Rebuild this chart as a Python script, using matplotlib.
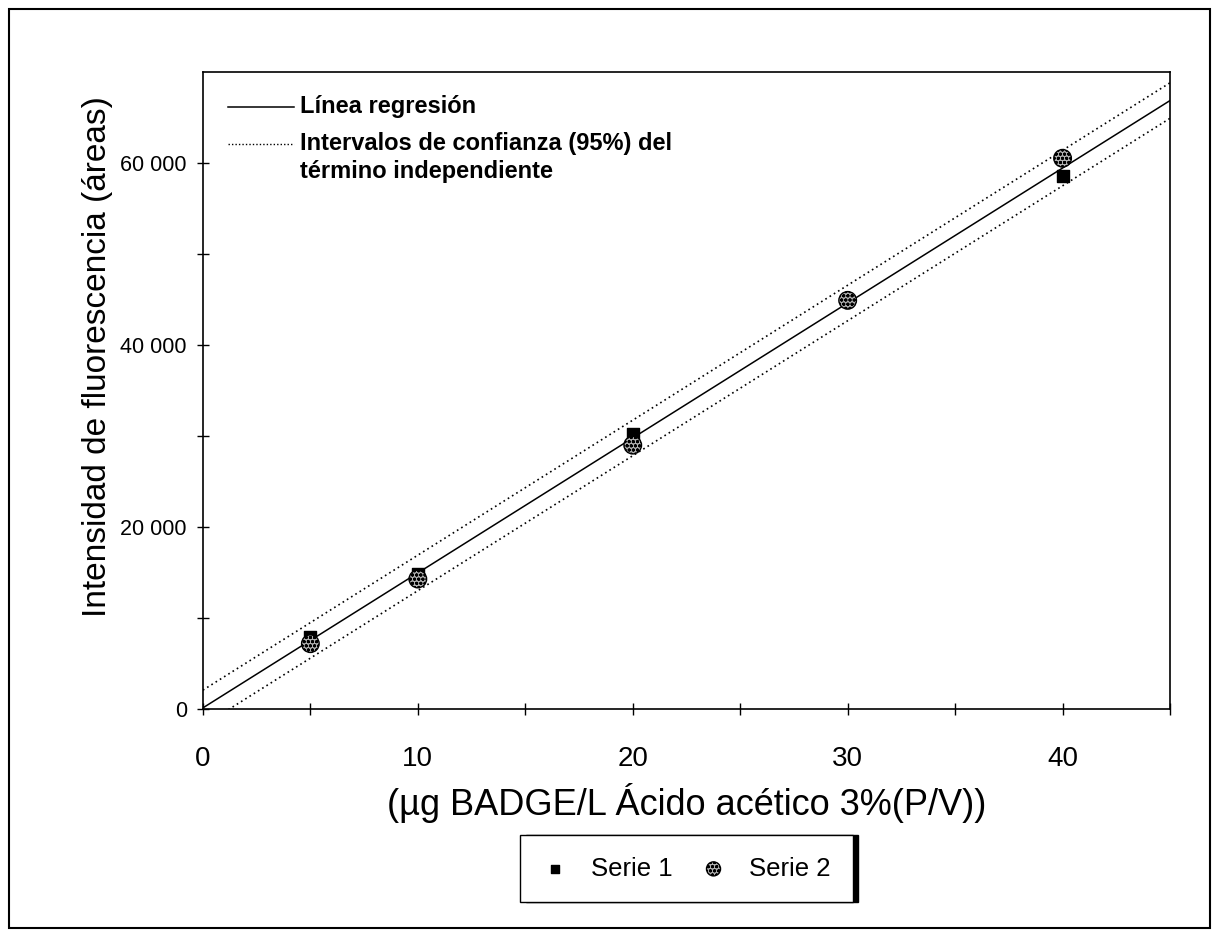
import matplotlib
matplotlib.use("Agg")
import matplotlib.pyplot as plt
from matplotlib.lines import Line2D
from matplotlib.patches import Rectangle
import numpy as np

plt.rcParams["font.family"] = ["Liberation Sans", "DejaVu Sans"]

# data
serie1_x = [5, 10, 20, 40]
serie1_y = [7900, 14900, 30200, 58600]
serie2_x = [5, 10, 20, 30, 40]
serie2_y = [7200, 14300, 29000, 44900, 60500]

slope = 1482
intercept = 150
ci_half = 1950

x_ticks = [0, 10, 20, 30, 40]
y_ticks = [0, 20000, 40000, 60000]
y_tick_labels = ["0", "20 000", "40 000", "60 000"]

fig = plt.figure(figsize=(12.15, 9.32), dpi=100)
ax = fig.add_axes([0.167, 0.239, 0.796, 0.684])

xr = np.array([0, 45])
ax.plot(xr, slope * xr + intercept, color="black", lw=1.1, zorder=2)
ax.plot(xr, slope * xr + intercept + ci_half, color="black", lw=1.2,
        ls=(0, (1, 2)), zorder=2)
ax.plot(xr, slope * xr + intercept - ci_half, color="black", lw=1.2,
        ls=(0, (1, 2)), zorder=2)

s1 = ax.scatter(serie1_x, serie1_y, marker="s", s=65, color="black",
                zorder=3, label="Serie 1")
s2 = ax.scatter(serie2_x, serie2_y, marker="o", s=160, facecolor="#b0b0b0",
                edgecolor="black", hatch="oooo", linewidth=1.0, zorder=4,
                label="Serie 2")

ax.set_xlim(0, 45)
ax.set_ylim(0, 70000)
ax.set_xticks(x_ticks)
ax.set_xticks([5, 15, 25, 35, 45], minor=True)
ax.set_yticks(y_ticks)
ax.set_yticklabels(y_tick_labels)
ax.set_yticks([10000, 30000, 50000], minor=True)
ax.tick_params(which="both", direction="inout", length=9, width=1,
               top=False, right=False)
ax.tick_params(axis="x", which="major", labelsize=20, pad=22)
ax.tick_params(axis="y", which="major", labelsize=15.5, pad=7)
for sp in ax.spines.values():
    sp.set_linewidth(1.2)

ax.set_xlabel("(µg BADGE/L Ácido acético 3%(P/V))", fontsize=26)
ax.xaxis.set_label_coords(0.5, -0.116)
ax.set_ylabel("Intensidad de fluorescencia (áreas)", fontsize=24)
ax.yaxis.set_label_coords(-0.093, 0.553)

# top-left legend drawn by hand
tr = ax.transAxes
ax.add_line(Line2D([0.026, 0.094], [0.945, 0.945], transform=tr,
                   color="black", lw=1.1))
ax.add_line(Line2D([0.026, 0.094], [0.887, 0.887], transform=tr,
                   color="black", lw=1.0, ls=(0, (1, 1.5))))
ax.text(0.100, 0.945, "Línea regresión", transform=tr, ha="left",
        va="center", fontsize=17, fontweight="bold")
ax.text(0.100, 0.905, "Intervalos de confianza (95%) del\ntérmino independiente",
        transform=tr, ha="left", va="top", fontsize=17, fontweight="bold",
        linespacing=1.25)

# bottom legend
leg = fig.legend(handles=[s1, s2], loc="center", bbox_to_anchor=(0.565, 0.068),
                 ncol=2, frameon=True, fancybox=False, edgecolor="black",
                 fontsize=18.5, handletextpad=0.9, columnspacing=1.1,
                 borderpad=0.85, borderaxespad=0.0, markerscale=0.8,
                 handlelength=1.0,
                 shadow={"color": "black", "alpha": 1.0, "ox": 4, "oy": 0})
leg.get_frame().set_linewidth(1.0)

# outer frame
fig.patches.append(Rectangle((0.007, 0.004), 0.989, 0.986,
                             transform=fig.transFigure, fill=False,
                             edgecolor="black", lw=1.5))

fig.savefig("out.png", dpi=100)
